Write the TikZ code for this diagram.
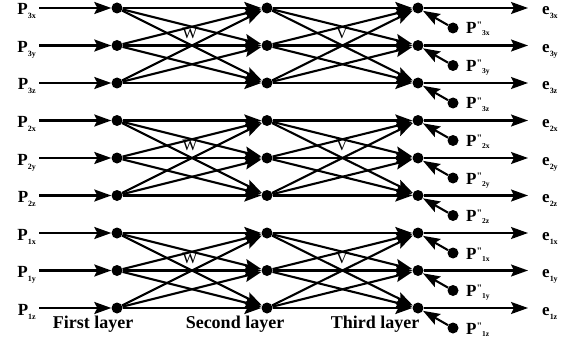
\documentclass[tikz,border=0pt]{standalone}
\usepackage{fontspec}
\setmainfont{Liberation Serif}
\usetikzlibrary{arrows.meta}
\newcommand{\lbl}[2]{#1{\fontsize{8}{8}\selectfont\raisebox{-4pt}{#2}}}
\newcommand{\pdd}[1]{P{\fontsize{10}{10}\selectfont\raisebox{5pt}{\textquotedbl}}{\fontsize{7.5}{7.5}\selectfont\raisebox{-2pt}{#1}}}
\begin{document}
\begin{tikzpicture}[x=1pt,y=-1pt,
  dot/.style={circle,fill=black,inner sep=0pt,minimum size=11pt},
  conn/.style={line width=2.1pt,-{Stealth[length=17pt,width=12pt,inset=3pt]}},
  lab/.style={font=\fontsize{17}{17}\selectfont\bfseries,inner sep=0pt},
  small/.style={font=\fontsize{16}{16}\selectfont,inner sep=0pt},
  layer/.style={font=\fontsize{18}{18}\selectfont\bfseries,inner sep=0pt,anchor=base},
]
\useasboundingbox (0,0) rectangle (576,345);
\foreach \i/\g/\c in {1/3/x,2/3/y,3/3/z,4/2/x,5/2/y,6/2/z,7/1/x,8/1/y,9/1/z}{
  \pgfmathsetmacro\yy{8+37.5*(\i-1)}
  \node[dot] (A\i) at (117,\yy) {};
  \node[dot] (B\i) at (267,\yy) {};
  \node[dot] (C\i) at (418,\yy) {};
  \node[dot] (D\i) at (453,\yy+20) {};
  \coordinate (O\i) at (528,\yy);
  \node[lab,anchor=base east] (P\i) at (36,\yy+7) {\lbl{P}{\g\c}};
  \node[lab,anchor=base west] (E\i) at (542,\yy+7) {\lbl{e}{\g\c}};
  \node[lab,anchor=base west] (Q\i) at (466,\yy+26) {\pdd{\g\c}};
}
\foreach \k in {0,3,6}{
  \foreach \a in {1,2,3}{
    \foreach \b in {1,2,3}{
      \pgfmathtruncatemacro\ia{\k+\a}
      \pgfmathtruncatemacro\ib{\k+\b}
      \draw[conn] (A\ia) -- (B\ib);
      \draw[conn] (B\ia) -- (C\ib);
    }
  }
  \pgfmathsetmacro\yt{8+37.5*\k+25}
  \node[small] (W\k) at (190,\yt) {W};
  \node[small] (V\k) at (342,\yt) {V};
}
\foreach \i in {1,...,9}{
  \draw[conn,shorten <=3pt] (P\i.east |- A\i) -- (A\i);
  \draw[conn] (C\i) -- (O\i);
  \draw[conn] (D\i) -- (C\i);
}
\node[layer] (L1) at (93,328) {First layer};
\node[layer] (L2) at (235,328) {Second layer};
\node[layer] (L3) at (375,328) {Third layer};
\end{tikzpicture}
\end{document}
